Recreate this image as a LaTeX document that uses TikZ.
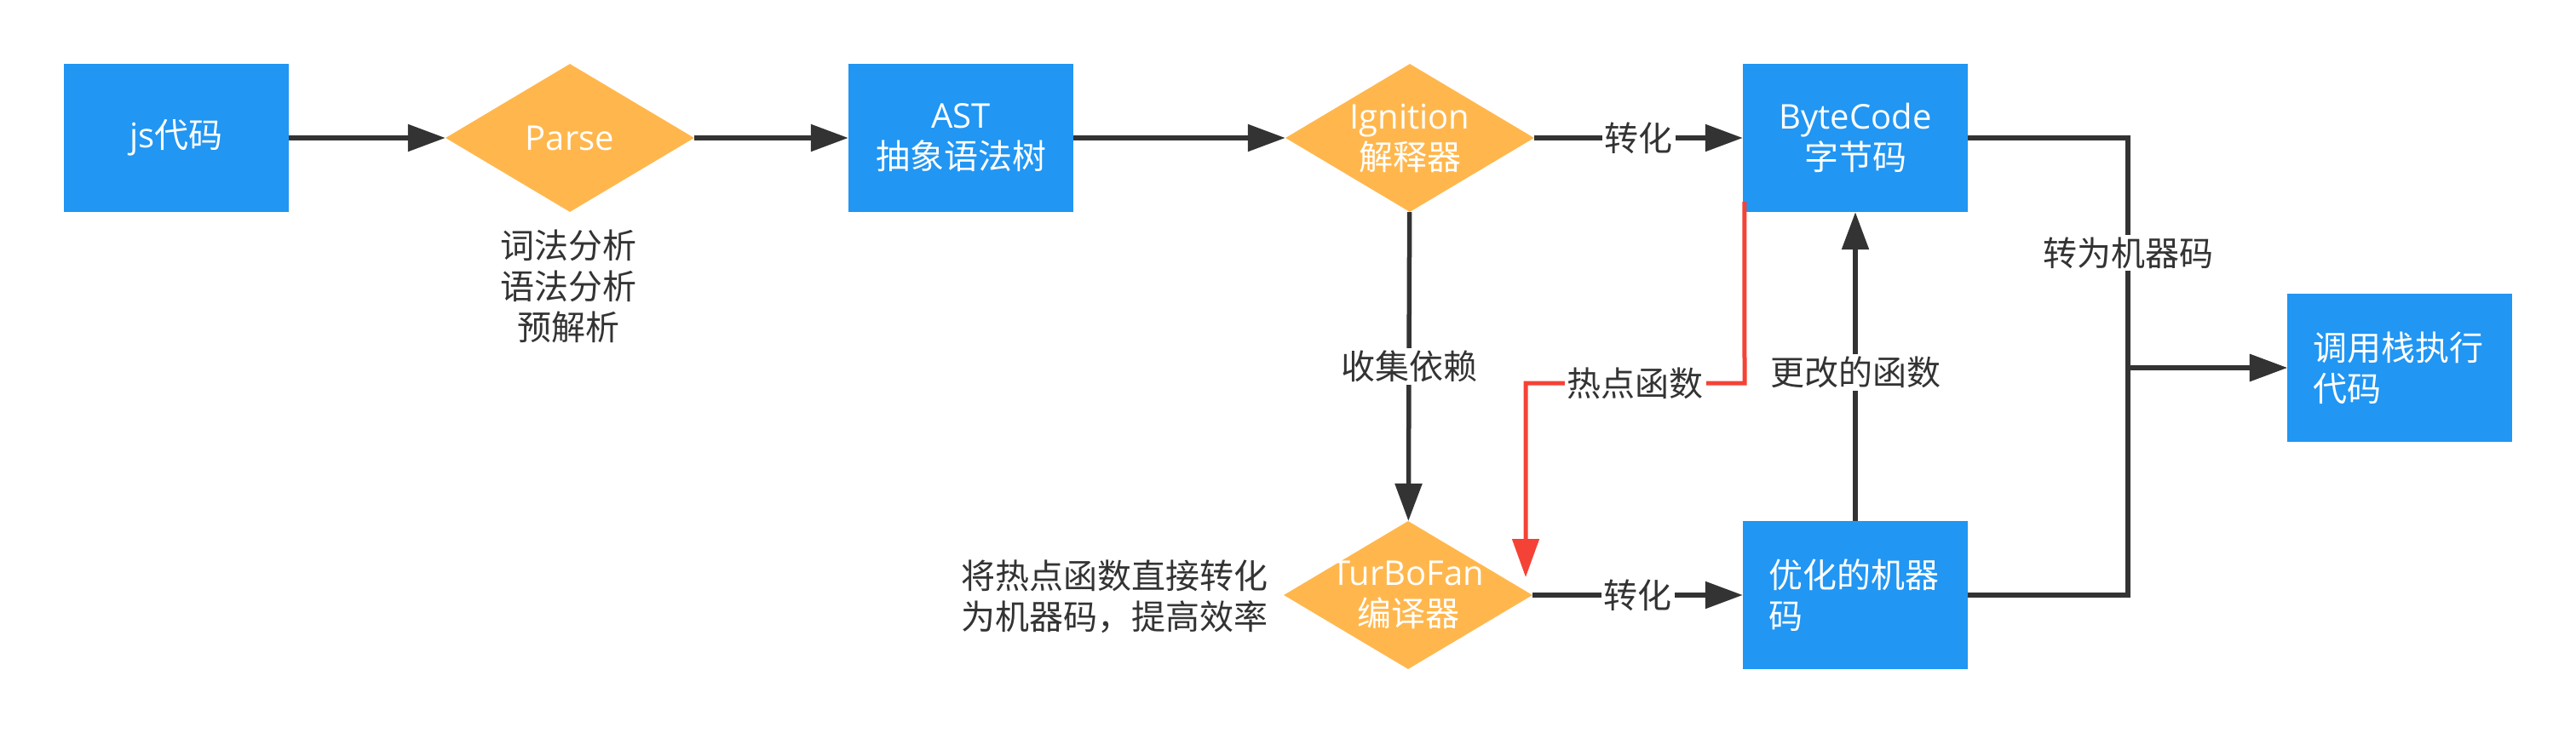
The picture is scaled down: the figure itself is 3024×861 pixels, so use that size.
\documentclass[tikz,border=0pt]{standalone}
\usepackage{fontspec}
\setmainfont{Open Sans}
\newfontfamily\cjk{Noto Sans CJK SC}
\usetikzlibrary{arrows.meta,shapes.geometric,calc}
\definecolor{boxblue}{HTML}{2196F3}
\definecolor{diaorange}{HTML}{FFB74D}
\definecolor{hotred}{HTML}{F44336}
\definecolor{ink}{HTML}{333333}
\newcommand\labfont{\fontsize{40}{48}\selectfont}
\begin{document}
\begin{tikzpicture}[x=1pt,y=-1pt,
  bx/.style={rectangle, fill=boxblue, draw=none, minimum width=264pt, minimum height=174pt, inner sep=0pt, text=white, font=\labfont, align=center},
  bxl/.style={bx, align=left, text width=204pt},
  dia/.style={diamond, fill=diaorange, draw=none, minimum width=292pt, minimum height=174pt, inner sep=0pt},
  dtext/.style={text=white, font=\labfont, align=center, inner sep=0pt},
  note/.style={text=ink, font=\labfont\cjk, align=center, inner sep=0pt},
  lab/.style={fill=white, text=ink, font=\labfont\cjk, inner sep=3pt},
  edge/.style={draw=ink, line width=5.5pt, -{Triangle[length=44pt,width=31pt]}},
  plain/.style={draw=ink, line width=5.5pt},
  hot/.style={draw=hotred, line width=5pt, -{Triangle[length=45pt,width=31pt]}}
]
\useasboundingbox (0,0) rectangle (3024,861);

% nodes
\node[bx] (js) at (207,162) {js{\cjk 代码}};
\node[dia] (parse) at (669,162) {};
\node[dtext] (parset) at (parse) {Parse};
\node[bx] (ast) at (1128,162) {AST\\{\cjk 抽象语法树}};
\node[dia] (ign) at (1655,162) {};
\node[dtext] (ignt) at (ign) {Ignition\\{\cjk 解释器}};
\node[bx] (bc) at (2178,162) {ByteCode\\{\cjk 字节码}};
\node[dia] (tf) at (1653,699) {};
\node[dtext] (tft) at (tf) {TurBoFan\\{\cjk 编译器}};
\node[bxl] (opt) at (2178,699) {{\cjk 优化的机器}\\{\cjk 码}};
\node[bxl] (call) at (2817,432) {{\cjk 调用栈执行}\\{\cjk 代码}};

\node[note] (n1) at (667,336) {词法分析\\语法分析\\预解析};
\node[note] (n2) at (1308,701) {将热点函数直接转化\\为机器码，提高效率};

% connectors
\draw[edge] (js) -- (parse);
\draw[edge] (parse) -- (ast);
\draw[edge] (ast) -- (ign);
\draw[edge] (ign) -- node[lab] {转化} (bc);
\draw[edge] (ign) -- node[lab] {收集依赖} (tf);
\draw[edge] (tf) -- node[lab] {转化} (opt);
\draw[edge] (opt) -- node[lab, pos=0.48] {更改的函数} (bc);

\coordinate (jx) at (2498,432);
\draw[edge] (bc.east) -| node[lab, pos=0.75] {转为机器码} (jx) -- (call.west);
\draw[edge] (opt.east) -| (jx) -- (call.west);

\coordinate (hs) at ($(bc.south west)+(2,-12)$);
\coordinate (r1) at (2048,450);
\coordinate (r2) at (1791,450);
\coordinate (he) at (1791,678);
\draw[hot] (hs) -- (r1) -- node[lab] {热点函数} (r2) -- (he);
\end{tikzpicture}
\end{document}
